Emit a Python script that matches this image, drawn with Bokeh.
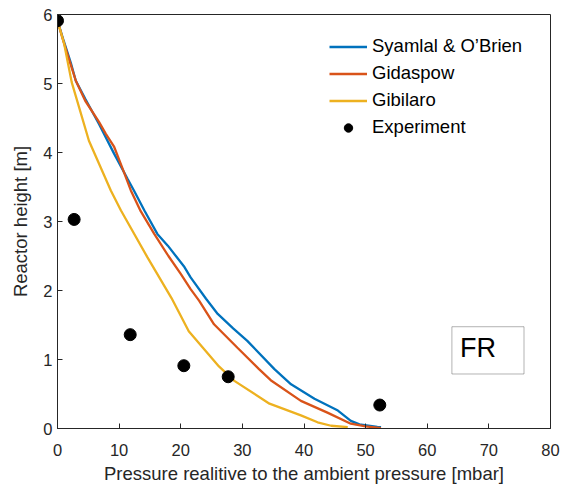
from bokeh.plotting import figure
from bokeh.models import Legend, LegendItem, BoxAnnotation, Label, Range1d, FixedTicker
from bokeh.embed import file_html
from bokeh.resources import INLINE

# Syamlal & O'Brien (pressure [mbar], height [m])
syamlal_p = [0, 1.0, 2.16, 2.97, 4.5, 6.75, 9.2, 11.36, 12.4, 14.1, 16.2, 17.9, 20.6, 21.6, 24.1, 26.0, 28.5, 30.8,
             35.2, 37.9, 41.7, 45.5, 47.6, 49.0, 51.9, 52.5]
syamlal_h = [5.91, 5.62, 5.30, 5.04, 4.78, 4.41, 3.98, 3.62, 3.45, 3.16, 2.82, 2.65, 2.34, 2.19, 1.88, 1.66, 1.45, 1.27,
             0.86, 0.64, 0.43, 0.26, 0.11, 0.06, 0.025, 0.02]

# Gidaspow
gidaspow_p = [0, 1.0, 2.16, 2.97, 4.5, 6.75, 7.84, 9.2, 10.5, 11.9, 13.5, 15.7, 18.0, 20.0, 21.6, 23.0, 25.4, 29.2,
              32.7, 34.6, 39.5, 43.8, 47.6, 50.0, 52.5]
gidaspow_h = [5.91, 5.60, 5.27, 5.04, 4.75, 4.44, 4.27, 4.08, 3.78, 3.45, 3.15, 2.82, 2.50, 2.24, 2.02, 1.85, 1.51, 1.17,
              0.86, 0.70, 0.40, 0.23, 0.07, 0.03, 0.005]

# Gibilaro
gibilaro_p = [0, 1.07, 2.3, 5.1, 8.65, 10.3, 14.6, 18.5, 21.3, 26.2, 28.7, 34.4, 39.5, 42.2, 44.4, 47.1]
gibilaro_h = [5.91, 5.58, 5.02, 4.17, 3.45, 3.16, 2.48, 1.89, 1.41, 0.90, 0.69, 0.36, 0.19, 0.09, 0.04, 0.02]

# Experiment
exp_p = [0, 2.7, 11.8, 20.5, 27.7, 52.3]
exp_h = [5.91, 3.03, 1.36, 0.91, 0.75, 0.34]

x_ticks = [0, 10, 20, 30, 40, 50, 60, 70, 80]
y_ticks = [0, 1, 2, 3, 4, 5, 6]

x_title = "Pressure realitive to the ambient pressure [mbar]"
y_title = "Reactor height [m]"

FONT = "Liberation Sans"
AX = "#262626"

p = figure(width=569, height=486, output_backend="svg", toolbar_location=None,
           x_range=Range1d(0, 80), y_range=Range1d(0, 6),
           min_border_left=57, min_border_right=19, min_border_top=14, min_border_bottom=58)
p.grid.visible = False
p.outline_line_color = AX
p.outline_line_width = 1
p.background_fill_color = "white"
p.border_fill_color = "white"

for ax, ticks in ((p.xaxis[0], x_ticks), (p.yaxis[0], y_ticks)):
    ax.ticker = FixedTicker(ticks=ticks)
    ax.axis_line_color = AX
    ax.major_tick_line_color = AX
    ax.major_tick_in = 5
    ax.major_tick_out = 0
    ax.minor_tick_line_color = None
    ax.major_label_text_font = FONT
    ax.major_label_text_font_size = "16.5px"
    ax.major_label_text_color = AX
    ax.axis_label_text_font = FONT
    ax.axis_label_text_font_size = "18.5px"
    ax.axis_label_text_font_style = "normal"
    ax.axis_label_text_color = AX

p.xaxis.axis_label = x_title
p.yaxis.axis_label = y_title
p.xaxis.major_label_standoff = 15
p.xaxis.axis_label_standoff = 4
p.yaxis.major_label_standoff = 5
p.yaxis.axis_label_standoff = 9

r1 = p.line(syamlal_p, syamlal_h, line_color="#0072BD", line_width=2.3)
r2 = p.line(gidaspow_p, gidaspow_h, line_color="#D95319", line_width=2.3)
r3 = p.line(gibilaro_p, gibilaro_h, line_color="#EDB120", line_width=2.3)
r4 = p.scatter(exp_p, exp_h, size=12, marker="circle", fill_color="black", line_color="black")

legend = Legend(items=[
    LegendItem(label="Syamlal & O\u2019Brien", renderers=[r1]),
    LegendItem(label="Gidaspow", renderers=[r2]),
    LegendItem(label="Gibilaro", renderers=[r3]),
    LegendItem(label="Experiment", renderers=[r4]),
], location=(272, 290))
legend.border_line_color = None
legend.background_fill_alpha = 0
legend.padding = 0
legend.margin = 0
legend.spacing = 5
legend.glyph_width = 38
legend.glyph_height = 21
legend.label_height = 21
legend.label_standoff = 5
legend.label_text_font = FONT
legend.label_text_font_size = "18.5px"
legend.label_text_color = "black"
p.add_layout(legend)

box = BoxAnnotation(left=64.0, right=75.7, bottom=0.79, top=1.475,
                    fill_color="white", fill_alpha=1, line_color="black", line_width=1)
p.add_layout(box)
p.add_layout(Label(x=65.3, y=0.955, text="FR", text_font=FONT, text_font_size="27px",
                   text_color="black"))

open("out.html", "w").write(file_html(p, INLINE))
